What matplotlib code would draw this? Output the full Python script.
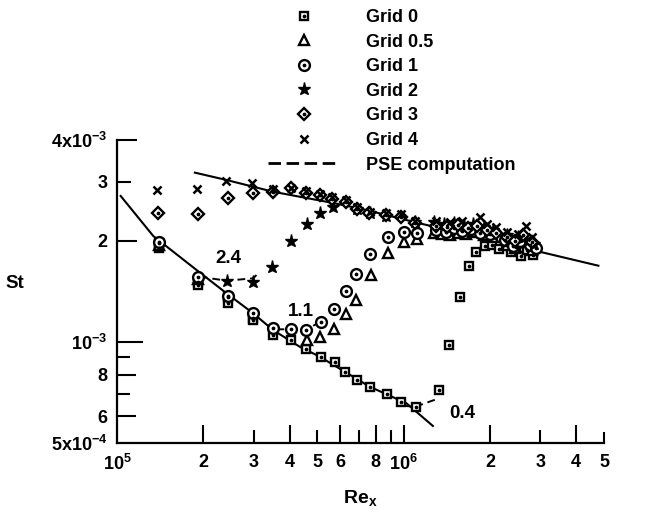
import numpy as np
import matplotlib
matplotlib.use("Agg")
import matplotlib.pyplot as plt
from matplotlib.lines import Line2D
from matplotlib.legend_handler import HandlerTuple
from matplotlib.ticker import FixedLocator, FixedFormatter, NullFormatter

plt.rcParams['font.family'] = ['Liberation Sans', 'DejaVu Sans']
plt.rcParams['font.weight'] = 'bold'
plt.rcParams['mathtext.fontset'] = 'custom'
plt.rcParams['mathtext.rm'] = 'Liberation Sans:bold'
plt.rcParams['mathtext.bf'] = 'Liberation Sans:bold'
plt.rcParams['mathtext.it'] = 'Liberation Sans:bold:italic'

# ---------------- data (Re_x, St) ----------------
re_g0 = [1.40e5, 1.40e5, 1.92e5, 1.92e5, 2.44e5, 2.44e5, 2.985e5, 2.985e5, 3.50e5, 4.06e5,
         4.58e5, 5.13e5, 5.75e5, 6.26e5, 6.86e5, 7.66e5, 8.75e5, 9.82e5, 1.10e6, 1.327e6,
         1.442e6, 1.567e6, 1.689e6, 1.792e6, 1.915e6, 2.03e6, 2.148e6, 2.28e6, 2.37e6,
         2.47e6, 2.56e6, 2.69e6, 2.82e6]
st_g0 = [1.97e-3, 1.90e-3, 1.51e-3, 1.48e-3, 1.36e-3, 1.31e-3, 1.18e-3, 1.16e-3, 1.049e-3, 1.014e-3,
         9.53e-4, 9.02e-4, 8.69e-4, 8.16e-4, 7.70e-4, 7.34e-4, 7.00e-4, 6.64e-4, 6.42e-4, 7.19e-4,
         9.80e-4, 1.365e-3, 1.684e-3, 1.851e-3, 1.932e-3, 1.946e-3, 1.889e-3, 1.946e-3, 1.855e-3,
         1.918e-3, 1.805e-3, 1.88e-3, 1.817e-3]

re_g05 = [1.40e5, 1.92e5, 4.59e5, 5.12e5, 5.70e5, 6.28e5, 6.83e5, 7.71e5, 8.80e5, 1.0e6, 1.113e6,
          1.28e6, 1.36e6, 1.45e6, 1.55e6, 1.65e6, 1.75e6, 1.90e6, 2.05e6, 2.30e6, 2.45e6, 2.60e6, 2.80e6]
st_g05 = [1.95e-3, 1.54e-3, 1.017e-3, 1.037e-3, 1.091e-3, 1.212e-3, 1.338e-3, 1.579e-3, 1.848e-3, 1.991e-3, 2.024e-3,
          2.12e-3, 2.10e-3, 2.09e-3, 2.12e-3, 2.10e-3, 2.13e-3, 2.08e-3, 2.06e-3, 1.95e-3, 1.90e-3, 1.98e-3, 1.88e-3]

re_g1 = [1.40e5, 1.92e5, 2.44e5, 2.985e5, 3.50e5, 4.06e5, 4.58e5, 5.13e5, 5.70e5, 6.28e5, 6.83e5,
         7.66e5, 8.81e5, 1.0e6, 1.109e6, 1.30e6, 1.40e6, 1.50e6, 1.60e6, 1.72e6, 1.85e6, 2.0e6,
         2.25e6, 2.40e6, 2.55e6, 2.75e6, 2.90e6]
st_g1 = [1.99e-3, 1.562e-3, 1.372e-3, 1.218e-3, 1.099e-3, 1.091e-3, 1.086e-3, 1.149e-3, 1.254e-3, 1.422e-3, 1.594e-3,
         1.832e-3, 2.051e-3, 2.132e-3, 2.117e-3, 2.16e-3, 2.13e-3, 2.18e-3, 2.14e-3, 2.17e-3, 2.12e-3, 2.10e-3,
         2.02e-3, 1.93e-3, 2.00e-3, 1.95e-3, 1.90e-3]

re_g2 = [2.41e5, 2.97e5, 3.48e5, 4.05e5, 4.59e5, 5.11e5, 5.67e5, 6.86e5, 7.61e5, 8.66e5, 1.092e6,
         1.28e6, 1.38e6, 1.50e6, 1.62e6, 1.75e6, 1.90e6, 2.05e6, 2.30e6, 2.50e6, 2.70e6, 2.85e6]
st_g2 = [1.517e-3, 1.513e-3, 1.670e-3, 2.004e-3, 2.245e-3, 2.428e-3, 2.52e-3, 2.486e-3, 2.428e-3, 2.382e-3, 2.283e-3,
         2.28e-3, 2.25e-3, 2.27e-3, 2.22e-3, 2.24e-3, 2.20e-3, 2.15e-3, 2.08e-3, 2.05e-3, 2.00e-3, 1.96e-3]

re_g3 = [1.393e5, 1.912e5, 2.432e5, 2.975e5, 3.49e5, 4.06e5, 4.58e5, 5.10e5, 5.64e5, 6.28e5, 6.86e5,
         7.60e5, 8.66e5, 9.82e5, 1.092e6, 1.30e6, 1.42e6, 1.55e6, 1.68e6, 1.80e6, 1.95e6, 2.10e6,
         2.30e6, 2.45e6, 2.60e6, 2.80e6]
st_g3 = [2.428e-3, 2.407e-3, 2.682e-3, 2.776e-3, 2.805e-3, 2.872e-3, 2.776e-3, 2.734e-3, 2.673e-3, 2.61e-3, 2.491e-3,
         2.428e-3, 2.39e-3, 2.362e-3, 2.258e-3, 2.22e-3, 2.20e-3, 2.23e-3, 2.19e-3, 2.21e-3, 2.16e-3, 2.12e-3,
         2.05e-3, 2.00e-3, 2.08e-3, 1.98e-3]

re_g4 = [1.382e5, 1.895e5, 2.407e5, 2.954e5, 3.49e5, 4.06e5, 4.58e5, 5.12e5, 5.64e5, 6.28e5, 6.86e5,
         7.61e5, 8.66e5, 9.82e5, 1.092e6, 1.30e6, 1.45e6, 1.60e6, 1.84e6, 1.95e6, 2.10e6, 2.30e6,
         2.50e6, 2.675e6, 2.80e6]
st_g4 = [2.838e-3, 2.851e-3, 3.013e-3, 2.97e-3, 2.858e-3, 2.877e-3, 2.818e-3, 2.753e-3, 2.706e-3, 2.651e-3, 2.526e-3,
         2.44e-3, 2.423e-3, 2.403e-3, 2.299e-3, 2.30e-3, 2.28e-3, 2.30e-3, 2.36e-3, 2.25e-3, 2.20e-3, 2.13e-3,
         2.10e-3, 2.217e-3, 2.05e-3]

# PSE computations
pse_turb_re = [1.87e5, 2.41e5, 3.50e5, 4.34e5, 5.66e5, 7.41e5, 9.68e5, 1.137e6, 2.98e6, 4.78e6]
pse_turb_st = [3.197e-3, 3.04e-3, 2.805e-3, 2.71e-3, 2.597e-3, 2.474e-3, 2.336e-3, 2.258e-3, 1.858e-3, 1.688e-3]
pse_lam_re = [1.03e5, 1.338e5, 1.895e5, 2.41e5, 2.985e5, 3.50e5, 4.34e5, 5.10e5, 7.61e5, 1.022e6, 1.265e6]
pse_lam_st = [2.724e-3, 2.07e-3, 1.639e-3, 1.397e-3, 1.218e-3, 1.086e-3, 9.68e-4, 9.04e-4, 7.36e-4, 6.57e-4, 5.62e-4]
pse_24_re = [1.946e5, 2.41e5, 2.985e5, 3.067e5]
pse_24_st = [1.565e-3, 1.523e-3, 1.548e-3, 1.584e-3]
pse_11_re = [3.60e5, 4.06e5, 4.58e5, 5.10e5]
pse_11_st = [1.091e-3, 1.091e-3, 1.086e-3, 1.149e-3]
pse_04_re = [9.94e5, 1.101e6, 1.30e6]
pse_04_st = [6.45e-4, 6.42e-4, 6.75e-4]

grid_labels = ['Grid 0', 'Grid 0.5', 'Grid 1', 'Grid 2', 'Grid 3', 'Grid 4']
curve_labels = ['2.4', '1.1', '0.4']

xtick_vals = [1e5, 2e5, 3e5, 4e5, 5e5, 6e5, 8e5, 1e6, 2e6, 3e6, 4e6, 5e6]
xtick_labels = [r'$\mathbf{10^{5}}$', '2', '3', '4', '5', '6', '8', r'$\mathbf{10^{6}}$', '2', '3', '4', '5']
xminor_vals = [7e5, 9e5]
ytick_vals = [5e-4, 6e-4, 8e-4, 1e-3, 2e-3, 3e-3, 4e-3]
ytick_labels = [r'$\mathbf{5x10^{-4}}$', '6', '8', r'$\mathbf{10^{-3}}$', '2', '3', r'$\mathbf{4x10^{-3}}$']
yminor_vals = [7e-4, 9e-4]

# ---------------- figure ----------------
fig = plt.figure(figsize=(6.53, 5.15), dpi=100)
ax = fig.add_axes([117/653, 72/515, 487/653, 303/515])
ax.set_xscale('log')
ax.set_yscale('log')
ax.set_xlim(1e5, 5e6)
ax.set_ylim(5e-4, 4e-3)

k = 'black'
lw = 1.5
# curves
ax.plot(pse_turb_re, pse_turb_st, color=k, lw=lw, zorder=2)
ax.plot(pse_lam_re, pse_lam_st, color=k, lw=lw, zorder=2)
for rr, ss in [(pse_24_re, pse_24_st), (pse_11_re, pse_11_st), (pse_04_re, pse_04_st)]:
    ax.plot(rr, ss, color=k, lw=1.4, dashes=(4, 2.5), zorder=2)

dot = dict(ls='none', marker='o', ms=1.7, color=k, zorder=4)
mk = dict(ls='none', mfc='white', mec=k, mew=1.7, zorder=3)

h0 = ax.plot(re_g0, st_g0, marker='s', ms=5.6, **mk)[0]
d0 = ax.plot(re_g0, st_g0, **dot)[0]
h05 = ax.plot(re_g05, st_g05, marker='^', ms=6.5, **mk)[0]
h1 = ax.plot(re_g1, st_g1, marker='o', ms=7.8, **mk)[0]
d1 = ax.plot(re_g1, st_g1, **dot)[0]
h2 = ax.plot(re_g2, st_g2, ls='none', marker='*', ms=9.5, color=k, zorder=3)[0]
h3 = ax.plot(re_g3, st_g3, marker='D', ms=6, **mk)[0]
d3 = ax.plot(re_g3, st_g3, **dot)[0]
h4 = ax.plot(re_g4, st_g4, ls='none', marker='x', ms=6.3, mew=1.8, color=k, zorder=3)[0]

# annotations
fs_ann = 13.5
ax.text(2.437e5, 1.779e-3, curve_labels[0], fontsize=fs_ann, fontweight='bold', ha='center', va='center')
ax.text(4.38e5, 1.237e-3, curve_labels[1], fontsize=fs_ann, fontweight='bold', ha='center', va='center')
ax.text(1.605e6, 6.14e-4, curve_labels[2], fontsize=fs_ann, fontweight='bold', ha='center', va='center')

# spines
for s in ['top', 'right']:
    ax.spines[s].set_visible(False)
for s in ['left', 'bottom']:
    ax.spines[s].set_linewidth(1.6)

# ticks
ax.xaxis.set_major_locator(FixedLocator(xtick_vals))
ax.xaxis.set_major_formatter(FixedFormatter(xtick_labels))
ax.xaxis.set_minor_locator(FixedLocator(xminor_vals))
ax.xaxis.set_minor_formatter(NullFormatter())
ax.yaxis.set_major_locator(FixedLocator(ytick_vals))
ax.yaxis.set_major_formatter(FixedFormatter(ytick_labels))
ax.yaxis.set_minor_locator(FixedLocator(yminor_vals))
ax.yaxis.set_minor_formatter(NullFormatter())
ax.tick_params(which='both', direction='in', width=1.5, labelsize=13)
ax.tick_params(axis='x', which='major', length=13, pad=8)
ax.tick_params(axis='y', which='major', length=13, pad=7)
ax.tick_params(which='minor', length=9.5)

fig.canvas.draw()
xlen = [0, 13, 9.5, 13, 9.5, 13, 13, 13, 13, 9.5, 13, 8]
for t, L in zip(ax.xaxis.get_major_ticks(), xlen):
    t.tick1line.set_markersize(L)
ylen = [0, 14, 14, 19, 14.5, 10, 14.5]
for t, L in zip(ax.yaxis.get_major_ticks(), ylen):
    t.tick1line.set_markersize(L)

ax.set_xlabel(r'$\mathbf{Re_{x}}$', fontsize=14, labelpad=10)
ax.set_ylabel('St', fontsize=13.5, fontweight='bold', rotation=0, labelpad=0)
ax.yaxis.set_label_coords(-0.21, 0.50)

# legend
pse_handle = Line2D([], [], color=k, lw=2, dashes=(4.5, 2))
handles = [(h0, d0), h05, (h1, d1), h2, (h3, d3), h4, pse_handle]
labels = grid_labels + ['PSE computation']
leg = fig.legend(handles, labels, loc='upper left', bbox_to_anchor=(268/653, 1 - 9/515),
                 frameon=False, handlelength=4.0, handletextpad=1.4,
                 labelspacing=0.42, borderpad=0, borderaxespad=0,
                 handler_map={tuple: HandlerTuple(ndivide=1)}, prop={'weight': 'bold', 'size': 13})

fig.savefig('out.png', dpi=100)
